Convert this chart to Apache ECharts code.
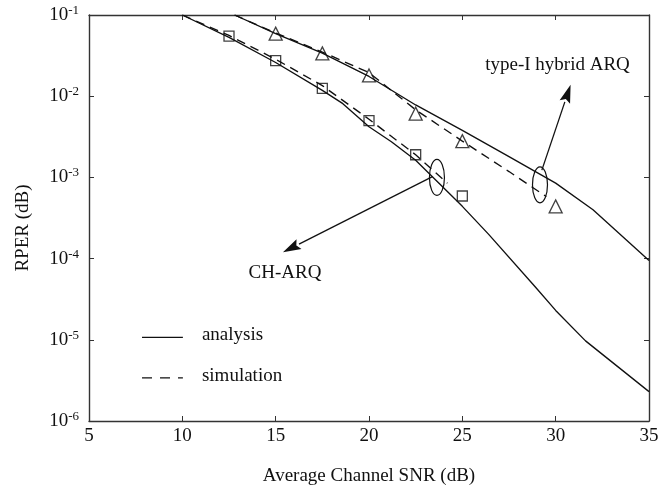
<!DOCTYPE html>
<html>
<head>
<meta charset="utf-8">
<script src="https://cdn.jsdelivr.net/npm/echarts@6/dist/echarts.min.js"></script>
<style>
  html, body { margin: 0; padding: 0; background: #fff; }
  #chart { width: 671px; height: 491px; }
</style>
</head>
<body>
<div id="chart"></div>
<script>
const FONT = '"Liberation Serif", "DejaVu Serif", serif';
const INK = '#111';

// axis ranges / ticks
const snrRange = [5, 35];
const snrStep = 5;
const rperRange = [1e-6, 1e-1];

// CH-ARQ: analysis curve, simulation curve, simulation points
const chAnalysisSnr  = [10.0, 12.5, 15.0, 17.5, 18.6, 20.0, 21.2, 22.5, 25.0, 26.4, 28.9, 30.0, 31.6, 35.0];
const chAnalysisRper = [0.1, 0.053, 0.026, 0.0118, 0.0081, 0.0042, 0.00275, 0.00163, 0.00044, 0.0002, 0.000045, 0.000023, 0.0000097, 0.0000023];
const chSimLineSnr   = [10.0, 12.5, 15.0, 17.5, 20.0, 22.5, 24.2];
const chSimLineRper  = [0.1, 0.056, 0.0285, 0.0135, 0.0052, 0.0019, 0.00085];
const chSimSnr       = [12.5, 15, 17.5, 20, 22.5, 25];
const chSimRper      = [0.055, 0.0275, 0.0125, 0.005, 0.0019, 0.00059];

// type-I hybrid ARQ: analysis curve, simulation curve, simulation points
const t1AnalysisSnr  = [12.8, 15, 17.5, 20, 22.5, 25, 27.5, 30, 32, 35];
const t1AnalysisRper = [0.1, 0.059, 0.034, 0.0175, 0.0078, 0.0038, 0.0018, 0.00085, 0.0004, 0.000095];
const t1SimLineSnr   = [12.8, 15, 17.5, 20, 22.5, 25, 27.5, 29.5];
const t1SimLineRper  = [0.1, 0.06, 0.035, 0.0195, 0.0068, 0.0028, 0.00118, 0.00058];
const t1SimSnr       = [15, 17.5, 20, 22.5, 25, 30];
const t1SimRper      = [0.059, 0.0337, 0.018, 0.0061, 0.0028, 0.00044];

// annotations (data coordinates)
const ellipseCenters = [[23.64, 0.001], [29.16, 0.00081]];
const arrowSegments  = [[23.4, 0.00102, 15.39, 0.00012], [29.26, 0.00123, 30.8, 0.0138]];
const noteTexts      = ['type-I hybrid ARQ', 'CH-ARQ'];
const notePositions  = [[30.1, 0.024], [15.5, 0.000066]];

// in-plot key
const keyLabels    = ['analysis', 'simulation'];
const keyLineSnr   = [7.84, 10.03];
const keyRper      = [0.0000107, 0.0000034];
const keyTextSnr   = 11.05;

const zip = (xs, ys) => xs.map((x, i) => [x, ys[i]]);

function lineSeries(xs, ys, dashed) {
  return {
    type: 'line', data: zip(xs, ys), showSymbol: false, silent: true,
    lineStyle: { color: INK, width: 1.35, type: dashed ? [9, 6] : 'solid' },
    z: 3
  };
}

function markerSeries(xs, ys, symbol, size) {
  return {
    type: 'scatter', data: zip(xs, ys), symbol: symbol, symbolSize: size, silent: true,
    itemStyle: { color: 'rgba(255,255,255,0)', borderColor: INK, borderWidth: 1.3 },
    z: 4
  };
}

const chart = echarts.init(document.getElementById('chart'), null, { renderer: 'canvas' });

const yLabelRich = {
  b: { fontFamily: FONT, fontSize: 19, color: INK, lineHeight: 22 },
  s: { fontFamily: FONT, fontSize: 13, color: INK, verticalAlign: 'top', lineHeight: 14 }
};

const option = {
  animation: false,
  backgroundColor: '#fff',
  grid: { left: 89, right: 22, top: 15, bottom: 70, containLabel: false, outerBoundsMode: 'none' },
  xAxis: [{
    type: 'value', min: snrRange[0], max: snrRange[1], interval: snrStep,
    name: 'Average Channel SNR (dB)', nameLocation: 'middle', nameGap: 46,
    nameTextStyle: { fontFamily: FONT, fontSize: 19, color: INK },
    axisLine: { lineStyle: { color: '#333', width: 1.4 } },
    axisTick: { inside: true, length: 5, lineStyle: { color: '#333' } },
    axisLabel: { fontFamily: FONT, fontSize: 19, color: INK, margin: 6 },
    splitLine: { show: false }
  }, {
    type: 'value', min: snrRange[0], max: snrRange[1], interval: snrStep, position: 'top',
    axisLine: { lineStyle: { color: '#333', width: 1.4 } },
    axisTick: { inside: true, length: 5, lineStyle: { color: '#333' } },
    axisLabel: { show: false }, splitLine: { show: false }
  }],
  yAxis: [{
    type: 'log', logBase: 10, min: rperRange[0], max: rperRange[1],
    name: 'RPER (dB)', nameLocation: 'middle', nameGap: 56, nameRotate: 90,
    nameTextStyle: { fontFamily: FONT, fontSize: 19, color: INK, padding: [0, 20, 0, 0] },
    axisLine: { show: true, lineStyle: { color: '#333', width: 1.4 } },
    axisTick: { show: true, inside: true, length: 5, lineStyle: { color: '#333' } },
    minorTick: { show: false },
    axisLabel: {
      margin: 10,
      formatter: v => '{b|10}{s|' + Math.round(Math.log10(v)) + '}',
      rich: yLabelRich
    },
    splitLine: { show: false }
  }, {
    type: 'log', logBase: 10, min: rperRange[0], max: rperRange[1], position: 'right',
    axisLine: { show: true, lineStyle: { color: '#333', width: 1.4 } },
    axisTick: { show: true, inside: true, length: 5, lineStyle: { color: '#333' } },
    axisLabel: { show: false }, splitLine: { show: false }
  }],
  series: [
    lineSeries(chAnalysisSnr, chAnalysisRper, false),
    lineSeries(chSimLineSnr, chSimLineRper, true),
    lineSeries(t1AnalysisSnr, t1AnalysisRper, false),
    lineSeries(t1SimLineSnr, t1SimLineRper, true),
    markerSeries(chSimSnr, chSimRper, 'rect', 10),
    markerSeries(t1SimSnr, t1SimRper, 'triangle', 13),
    {
      // grouping ellipses
      type: 'custom', silent: true, z: 5,
      data: ellipseCenters,
      renderItem: (params, api) => {
        const c = api.coord([api.value(0), api.value(1)]);
        return {
          type: 'ellipse',
          shape: { cx: c[0], cy: c[1], rx: 7.5, ry: 18 },
          style: { fill: 'none', stroke: INK, lineWidth: 1.2 }
        };
      }
    },
    {
      // pointer arrows
      type: 'custom', silent: true, z: 5,
      data: arrowSegments,
      encode: { x: [0, 2], y: [1, 3] },
      renderItem: (params, api) => {
        const p1 = api.coord([api.value(0), api.value(1)]);
        const p2 = api.coord([api.value(2), api.value(3)]);
        const dx = p2[0] - p1[0], dy = p2[1] - p1[1];
        const len = Math.hypot(dx, dy);
        const ux = dx / len, uy = dy / len;
        const headLen = 18, headHalf = 5.5;
        const bx = p2[0] - ux * headLen, by = p2[1] - uy * headLen;
        return {
          type: 'group',
          children: [
            { type: 'line', shape: { x1: p1[0], y1: p1[1], x2: bx, y2: by },
              style: { stroke: INK, lineWidth: 1.3 } },
            { type: 'polygon',
              shape: { points: [p2, [bx - uy * headHalf, by + ux * headHalf], [bx + ux * 3, by + uy * 3], [bx + uy * headHalf, by - ux * headHalf]] },
              style: { fill: INK } }
          ]
        };
      }
    },
    {
      // curve captions
      type: 'custom', silent: true, z: 6,
      data: notePositions,
      renderItem: (params, api) => {
        const c = api.coord([api.value(0), api.value(1)]);
        return {
          type: 'text', x: c[0], y: c[1],
          style: { text: noteTexts[params.dataIndex], font: '19px ' + FONT, fill: INK,
                   align: 'center', verticalAlign: 'middle' }
        };
      }
    },
    {
      // key: line samples and labels
      type: 'custom', silent: true, z: 6,
      data: keyRper.map(r => [keyLineSnr[0], r]),
      renderItem: (params, api) => {
        const r = api.value(1);
        const a = api.coord([keyLineSnr[0], r]);
        const b = api.coord([keyLineSnr[1], r]);
        const t = api.coord([keyTextSnr, r]);
        const dashed = params.dataIndex === 1;
        return {
          type: 'group',
          children: [
            { type: 'line', shape: { x1: a[0], y1: a[1], x2: b[0], y2: b[1] },
              style: { stroke: INK, lineWidth: 1.4, lineDash: dashed ? [10, 8] : null } },
            { type: 'text', x: t[0], y: t[1] - 2,
              style: { text: keyLabels[params.dataIndex], font: '19px ' + FONT, fill: INK,
                       align: 'left', verticalAlign: 'middle' } }
          ]
        };
      }
    }
  ]
};

chart.setOption(option);
</script>
</body>
</html>
